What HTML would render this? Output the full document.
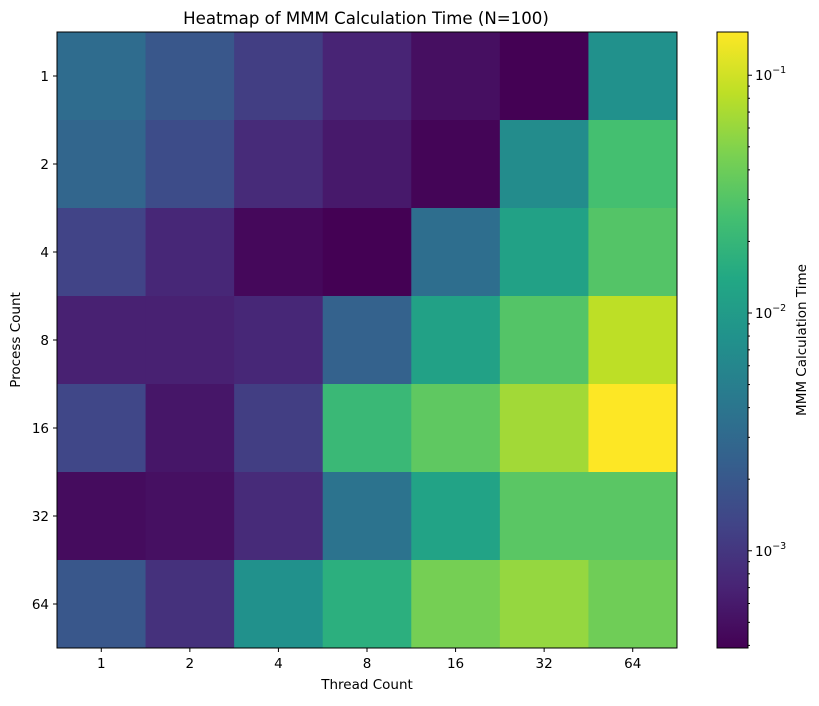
<!DOCTYPE html>
<html><head><meta charset="utf-8"><style>
body{margin:0;background:#fff;font-family:"Liberation Sans","DejaVu Sans",sans-serif;}
svg text{font-family:"DejaVu Sans","Liberation Sans",sans-serif;fill:#000;}
</style></head><body>
<svg id="chart" width="819" height="701" xmlns="http://www.w3.org/2000/svg">
<defs><linearGradient id="vg" x1="0" y1="1" x2="0" y2="0">
<stop offset="0" stop-color="#440154"/><stop offset="0.1" stop-color="#482475"/><stop offset="0.2" stop-color="#414487"/><stop offset="0.3" stop-color="#355f8d"/><stop offset="0.4" stop-color="#2a788e"/><stop offset="0.5" stop-color="#21918c"/><stop offset="0.6" stop-color="#22a884"/><stop offset="0.7" stop-color="#44bf70"/><stop offset="0.8" stop-color="#7ad151"/><stop offset="0.9" stop-color="#bddf26"/><stop offset="1" stop-color="#fde725"/>
</linearGradient></defs>
<text x="366" y="24" font-size="16.6" text-anchor="middle">Heatmap of MMM Calculation Time (N=100)</text>
<g id="cells"></g><g id="ticks"></g>
<rect x="717" y="32" width="31" height="616" fill="url(#vg)" stroke="#000" stroke-width="1"/>
<g id="cbticks"></g>
<text x="367" y="689" font-size="13.5" text-anchor="middle">Thread Count</text>
<text transform="translate(20,340) rotate(-90)" font-size="13.5" text-anchor="middle">Process Count</text>
<text transform="translate(806,340) rotate(-90)" font-size="13.5" text-anchor="middle">MMM Calculation Time</text>
</svg>
<script>
const threads=["1","2","4","8","16","32","64"];
const processes=["1","2","4","8","16","32","64"];
const times=[
[3.15e-3,1.95e-3,1.14e-3,7.1e-4,4.97e-4,3.9e-4,7.7e-3],
[2.79e-3,1.54e-3,8.0e-4,5.9e-4,4.15e-4,6.84e-3,0.0254],
[1.29e-3,7.5e-4,4.4e-4,3.9e-4,3.34e-3,0.0117,0.0303],
[6.7e-4,6.7e-4,7.5e-4,2.48e-3,0.0117,0.0303,0.0836],
[1.37e-3,5.6e-4,1.14e-3,0.0212,0.0342,0.0659,0.152],
[4.7e-4,5.0e-4,8.0e-4,3.77e-3,0.0124,0.0322,0.0322],
[1.95e-3,9.0e-4,7.7e-3,0.0167,0.0434,0.0585,0.0408]];
const cbTicks=[1e-1,1e-2,1e-3];
const cbLabels=["-1","-2","-3"];
const vmin=3.9e-4,vmax=0.152;
const NS="http://www.w3.org/2000/svg";
const X0=57,X1=677,Y0=32,Y1=648;
const cw=(X1-X0)/threads.length,ch=(Y1-Y0)/processes.length;
const stops=[[68,1,84],[72,36,117],[65,68,135],[53,95,141],[42,120,142],[33,145,140],[34,168,132],[68,191,112],[122,209,81],[189,223,38],[253,231,37]];
function norm(v){return (Math.log10(v)-Math.log10(vmin))/(Math.log10(vmax)-Math.log10(vmin));}
function cmap(t){t=Math.max(0,Math.min(1,t))*10;const i=Math.min(9,Math.floor(t));const f=t-i;const c=stops[i].map((a,k)=>Math.round(a+(stops[i+1][k]-a)*f));return `rgb(${c})`;}
function cbY(v){return Y1-norm(v)*(Y1-Y0);}
function mk(tag,at,parent){const e=document.createElementNS(NS,tag);for(const k in at)e.setAttribute(k,at[k]);parent.appendChild(e);return e;}
const cells=document.getElementById('cells'),tk=document.getElementById('ticks'),cb=document.getElementById('cbticks');
times.forEach((row,r)=>row.forEach((v,c)=>{
 const e=mk('rect',{x:X0+c*cw,y:Y0+r*ch,width:cw+0.5,height:ch+0.5,fill:cmap(norm(v))},cells);
 
 
}));
mk('rect',{x:X0,y:Y0,width:X1-X0,height:Y1-Y0,fill:'none',stroke:'#000','stroke-width':1},tk);
threads.forEach((t,i)=>{const x=X0+(i+.5)*cw;mk('line',{x1:x,x2:x,y1:Y1,y2:Y1+4,stroke:'#000'},tk);
 const e=mk('text',{x:x,y:Y1+20,'font-size':13.5,'text-anchor':'middle'},tk);e.textContent=t;
 
 });
processes.forEach((p,i)=>{const y=Y0+(i+.5)*ch;mk('line',{x1:X0-4,x2:X0,y1:y,y2:y,stroke:'#000'},tk);
 const e=mk('text',{x:X0-8,y:y+5,'font-size':13.5,'text-anchor':'end'},tk);e.textContent=p;
 
 });
for(let d=-4;d<=-1;d++)for(let m=2;m<=9;m++){const v=m*Math.pow(10,d);if(v<vmin||v>vmax)continue;const y=cbY(v);mk('line',{x1:748,x2:750,y1:y,y2:y,stroke:'#000'},cb);}
cbTicks.forEach((v,i)=>{const y=cbY(v);mk('line',{x1:748,x2:752,y1:y,y2:y,stroke:'#000'},cb);
 const e=mk('text',{x:755,y:y+5,'font-size':13.5},cb);e.textContent='10';
 const s=mk('tspan',{dy:-7,'font-size':9.5},e);s.textContent='\u2212'+cbLabels[i].slice(1);
 
 });
</script>
</body></html>
